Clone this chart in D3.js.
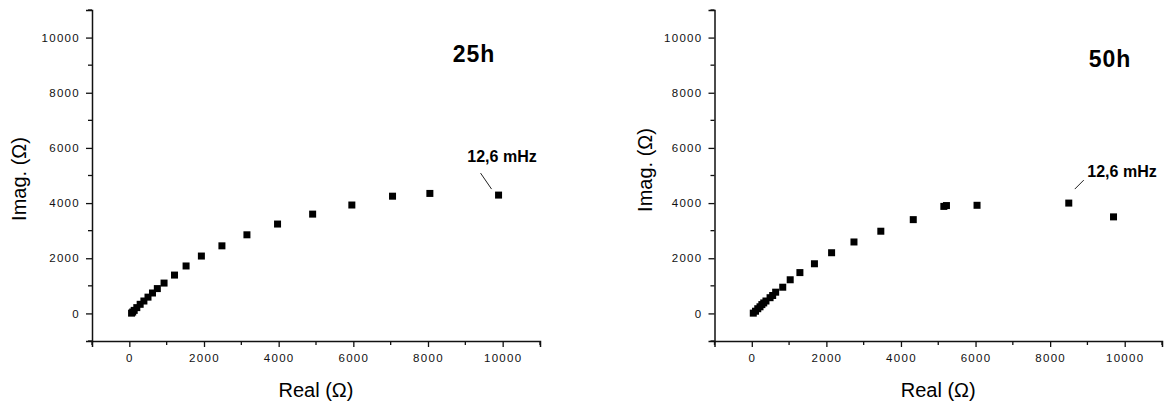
<!DOCTYPE html>
<html>
<head>
<meta charset="utf-8">
<script src="https://cdn.jsdelivr.net/npm/d3@7"></script>
<style>
  body { margin: 0; background: #fff; }
  svg { font-family: "Liberation Sans", Arial, sans-serif; }
</style>
</head>
<body>
<div id="chart"></div>
<script>
// impedance data (Real, Imag in ohm)
var real25 = [60, 90, 130, 200, 290, 390, 500, 620, 750, 930, 1210, 1520, 1930, 2480, 3150, 3970, 4910, 5960, 7050, 8050, 9890];
var imag25 = [10, 50, 110, 210, 330, 450, 590, 740, 900, 1100, 1390, 1720, 2080, 2450, 2850, 3240, 3600, 3930, 4250, 4350, 4290];

var real50 = [40, 100, 160, 220, 270, 320, 380, 490, 560, 640, 830, 1030, 1290, 1680, 2140, 2740, 3460, 4330, 5150, 5220, 6040, 8500, 9700];
var imag50 = [10, 80, 170, 240, 320, 380, 450, 570, 650, 770, 950, 1220, 1480, 1800, 2200, 2590, 2980, 3400, 3880, 3910, 3920, 4000, 3500];

var titles = ["25h", "50h"];
var noteText = "12,6 mHz";
var majorTicks = [0, 2000, 4000, 6000, 8000, 10000];
var minorTicks = [-1000, 1000, 3000, 5000, 7000, 9000, 11000];
var xLabel = "Real (\u03A9)";
var yLabel = "Imag. (\u03A9)";

var svg = d3.select("#chart").append("svg")
    .attr("width", 1165)
    .attr("height", 405);

function drawPanel(p) {
    var x = d3.scaleLinear().domain([-1000, 11000]).range(p.xRange);
    var y = d3.scaleLinear().domain([-1000, 11000]).range([341, 10]);
    var g = svg.append("g");
    var fmt = d3.format("d");

    // x axis
    var xAxis = g.append("g")
        .attr("transform", "translate(0," + y(-1000) + ")")
        .call(d3.axisBottom(x).tickValues(majorTicks).tickFormat(fmt).tickSize(6).tickPadding(5));
    xAxis.append("g").selectAll("line").data(minorTicks).enter().append("line")
        .attr("x1", d => x(d)).attr("x2", d => x(d))
        .attr("y1", 0).attr("y2", 4)
        .attr("stroke", "#111").attr("stroke-width", 1.3);

    // y axis
    var yAxis = g.append("g")
        .attr("transform", "translate(" + x(-1000) + ",0)")
        .call(d3.axisLeft(y).tickValues(majorTicks).tickFormat(fmt).tickSize(6).tickPadding(6));
    yAxis.append("g").selectAll("line").data(minorTicks).enter().append("line")
        .attr("y1", d => y(d)).attr("y2", d => y(d))
        .attr("x1", 0).attr("x2", -4)
        .attr("stroke", "#111").attr("stroke-width", 1.3);

    g.selectAll(".domain").attr("stroke", "#111").attr("stroke-width", 1.5);
    g.selectAll(".tick line").attr("stroke", "#111").attr("stroke-width", 1.3);
    g.selectAll(".tick text")
        .style("font-size", "11.5px")
        .style("letter-spacing", "1.3px")
        .attr("fill", "#111");
    xAxis.selectAll(".tick text").attr("dy", "0.9em");

    // markers
    g.selectAll("rect.pt").data(p.real).enter().append("rect")
        .attr("class", "pt")
        .attr("x", (d, i) => x(d) - 3.5)
        .attr("y", (d, i) => y(p.imag[i]) - 3.5)
        .attr("width", 7).attr("height", 7)
        .attr("fill", "#000");

    // axis titles
    g.append("text")
        .attr("x", (x(2000) + x(8000)) / 2 + p.xLabDx)
        .attr("y", 397)
        .attr("text-anchor", "middle")
        .style("font-size", "20px")
        .text(xLabel);
    g.append("text")
        .attr("transform", "translate(" + p.yLabX + "," + p.yLabY + ") rotate(-90)")
        .attr("text-anchor", "middle")
        .style("font-size", "20px")
        .text(yLabel);

    // panel title
    g.append("text")
        .attr("x", p.titleX).attr("y", p.titleY)
        .attr("text-anchor", "middle")
        .style("font-size", "23px")
        .style("font-weight", "bold")
        .style("letter-spacing", "1px")
        .text(p.title);

    // frequency note with leader line
    var k = p.noteIndex;
    g.append("line")
        .attr("x1", x(p.real[k]) + p.lead[0]).attr("y1", y(p.imag[k]) + p.lead[1])
        .attr("x2", x(p.real[k]) + p.lead[2]).attr("y2", y(p.imag[k]) + p.lead[3])
        .attr("stroke", "#222").attr("stroke-width", 1);
    g.append("text")
        .attr("x", p.noteX).attr("y", p.noteY)
        .attr("text-anchor", "middle")
        .style("font-size", "16px")
        .style("font-weight", "bold")
        .text(noteText);
}

drawPanel({
    real: real25, imag: imag25, title: titles[0],
    xRange: [92, 540],
    titleX: 474, titleY: 62,
    yLabX: 26, yLabY: 179, xLabDx: 0,
    noteIndex: real25.length - 1, noteX: 502, noteY: 162,
    lead: [-18, -22, -7, -6]
});
drawPanel({
    real: real50, imag: imag50, title: titles[1],
    xRange: [714.5, 1162],
    titleX: 1110, titleY: 67,
    yLabX: 652, yLabY: 170, xLabDx: 0,
    noteIndex: real50.length - 2, noteX: 1122, noteY: 177,
    lead: [6, -14, 15, -23]
});
</script>
</body>
</html>
